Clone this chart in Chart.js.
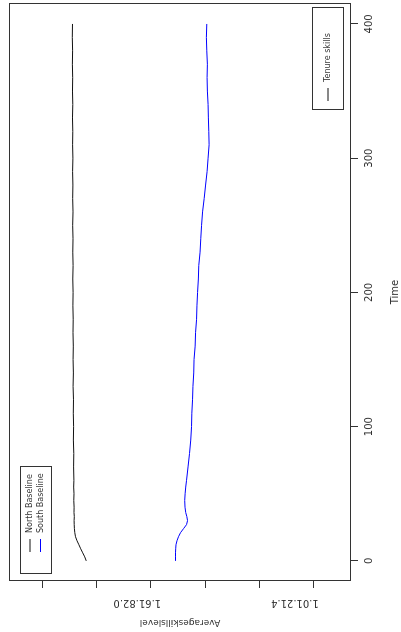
<!DOCTYPE html>
<html>
<head>
<meta charset="utf-8">
<script src="https://cdn.jsdelivr.net/npm/chart.js@4/dist/chart.umd.min.js"></script>
<style>
  html, body { margin: 0; padding: 0; background: #fff; overflow: hidden; }
  /* the plot is drawn landscape, then turned a quarter to the left */
  #wrap {
    position: absolute; left: 0; top: 0; width: 632px; height: 401px;
    transform-origin: 0 0;
    transform: translate(0, 632px) rotate(-90deg);
  }
</style>
</head>
<body>
<div id="wrap"><canvas id="chart" width="632" height="401"></canvas></div>
<script>
// Data
const TIME = [0, 3, 6, 9, 12, 15, 18, 21, 24, 27, 30, 33, 36, 40, 45, 50, 55, 60,
  70, 80, 90, 100, 110, 120, 130, 140, 150, 160, 170, 180, 190, 200, 210, 220,
  230, 240, 250, 260, 270, 280, 290, 300, 310, 320, 330, 340, 350, 360, 370,
  380, 390, 400];

const NORTH = [1.8376, 1.8432, 1.8506, 1.8579, 1.8646, 1.8716, 1.8771, 1.8797,
  1.8812, 1.8819, 1.8823, 1.8815, 1.8827, 1.8823, 1.8834, 1.8827, 1.8838, 1.8830,
  1.8841, 1.8834, 1.8849, 1.8841, 1.8852, 1.8845, 1.8860, 1.8849, 1.8860, 1.8852,
  1.8863, 1.8856, 1.8867, 1.8860, 1.8871, 1.8860, 1.8871, 1.8863, 1.8875, 1.8863,
  1.8875, 1.8867, 1.8878, 1.8867, 1.8878, 1.8871, 1.8882, 1.8871, 1.8882, 1.8875,
  1.8886, 1.8878, 1.8889, 1.8882];

const SOUTH = [1.5092, 1.5092, 1.5092, 1.5085, 1.5074, 1.5037, 1.4982, 1.4908,
  1.4797, 1.4686, 1.4649, 1.4675, 1.4716, 1.4742, 1.4753, 1.4738, 1.4716, 1.4686,
  1.4631, 1.4576, 1.4531, 1.4502, 1.4491, 1.4465, 1.4450, 1.4421, 1.4410, 1.4369,
  1.4354, 1.4317, 1.4303, 1.4280, 1.4251, 1.4236, 1.4188, 1.4162, 1.4133, 1.4096,
  1.4037, 1.3985, 1.3930, 1.3893, 1.3856, 1.3867, 1.3882, 1.3893, 1.3919, 1.3930,
  1.3919, 1.3941, 1.3956, 1.3941];

const TIME_TICKS  = [0, 100, 200, 300, 400];
const VALUE_TICKS = [1.0, 1.2, 1.4, 1.6, 1.8, 2.0];
// the value labels are printed run together in two groups
const VALUE_LABELS   = ["1.01.21.4", "1.61.82.0"];
const VALUE_LABEL_AT = [1.07, 1.65];

const SERIES_NAMES  = ["North Baseline", "South Baseline"];
const SERIES_COLORS = ["#111111", "#0000ff"];
const EXTRA_LEGEND  = ["Tenure skills"];

const FONT = "DejaVu Sans";
const INK  = "#333";

// Box, grouped value labels and the two in-plot legends
const rPlotExtras = {
  id: "rPlotExtras",
  afterDraw(chart) {
    const { ctx, chartArea: a, scales } = chart;
    ctx.save();
    ctx.strokeStyle = INK;
    ctx.lineWidth = 1;
    ctx.strokeRect(a.left + 0.5, a.top + 0.5, a.right - a.left - 1, a.bottom - a.top - 1);

    ctx.fillStyle = INK;
    ctx.font = `10px "${FONT}"`;
    ctx.textAlign = "center";
    ctx.textBaseline = "middle";
    VALUE_LABELS.forEach((txt, i) => {
      const y = scales.y.getPixelForValue(VALUE_LABEL_AT[i]);
      ctx.save();
      ctx.translate(29, y);
      ctx.rotate(-Math.PI / 2);
      ctx.fillText(txt, 0, 0);
      ctx.restore();
    });

    // legend: series names
    ctx.font = `8px "${FONT}"`;
    ctx.textAlign = "left";
    ctx.strokeStyle = INK;
    ctx.strokeRect(58.5, 20.5, 107, 31);
    SERIES_NAMES.forEach((name, i) => {
      const y = 30 + i * 10.5;
      ctx.strokeStyle = SERIES_COLORS[i];
      ctx.beginPath();
      ctx.moveTo(80, y);
      ctx.lineTo(93, y);
      ctx.stroke();
      ctx.fillStyle = INK;
      ctx.fillText(name, 99, y);
    });

    // legend: extra label
    ctx.strokeStyle = INK;
    ctx.strokeRect(522.5, 312.5, 102, 31);
    EXTRA_LEGEND.forEach((name, i) => {
      const y = 328 + i * 10.5;
      ctx.strokeStyle = SERIES_COLORS[0];
      ctx.beginPath();
      ctx.moveTo(531, y);
      ctx.lineTo(544, y);
      ctx.stroke();
      ctx.fillStyle = INK;
      ctx.fillText(name, 550, y);
    });
    ctx.restore();
  }
};

new Chart(document.getElementById("chart"), {
  type: "line",
  data: {
    datasets: [
      {
        label: SERIES_NAMES[0],
        data: TIME.map((t, i) => ({ x: t, y: NORTH[i] })),
        borderColor: SERIES_COLORS[0],
      },
      {
        label: SERIES_NAMES[1],
        data: TIME.map((t, i) => ({ x: t, y: SOUTH[i] })),
        borderColor: SERIES_COLORS[1],
      }
    ]
  },
  options: {
    responsive: false,
    animation: false,
    layout: { padding: { top: 9, right: 3, left: 0, bottom: 0 } },
    elements: {
      point: { radius: 0 },
      line: { borderWidth: 1, tension: 0 }
    },
    plugins: {
      legend: { display: false },
      tooltip: { enabled: false }
    },
    scales: {
      x: {
        type: "linear",
        position: "bottom",
        min: -15,
        max: 415.6,
        afterBuildTicks: s => { s.ticks = TIME_TICKS.map(v => ({ value: v })); },
        afterFit: s => { s.height = 50; },
        grid: { drawOnChartArea: false, drawTicks: true, tickLength: 7, color: INK },
        border: { display: false },
        ticks: { color: INK, font: { family: FONT, size: 10 }, padding: 5, maxRotation: 0, autoSkip: false },
        title: {
          display: true, text: "Time", color: INK,
          font: { family: FONT, size: 10 }, padding: { top: 0, bottom: 0 }
        }
      },
      y: {
        type: "linear",
        position: "left",
        min: 0.8635,
        max: 2.1218,
        afterBuildTicks: s => { s.ticks = VALUE_TICKS.map(v => ({ value: v })); },
        afterFit: s => { s.width = 51; },
        grid: { drawOnChartArea: false, drawTicks: true, tickLength: 7, color: INK },
        border: { display: false },
        ticks: { display: false },
        title: {
          display: true, text: "Averageskillslevel", color: INK,
          font: { family: FONT, size: 9 }, padding: { top: 4, bottom: 0 }
        }
      }
    }
  },
  plugins: [rPlotExtras]
});
</script>
</body>
</html>
